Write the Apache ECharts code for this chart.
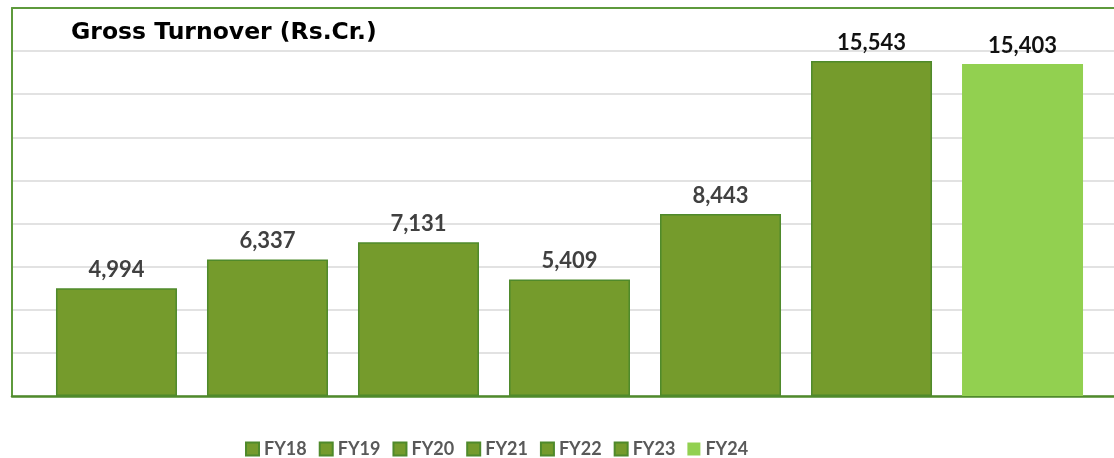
<!DOCTYPE html>
<html>
<head>
<meta charset="utf-8">
<script src="https://cdn.jsdelivr.net/npm/echarts@6/dist/echarts.min.js"></script>
<style>
  html, body { margin: 0; padding: 0; background: #fff; }
  #chart { width: 1114px; height: 458px; }
</style>
</head>
<body>
<div id="chart"></div>
<script>
// 数据
var years = ['FY18', 'FY19', 'FY20', 'FY21', 'FY22', 'FY23', 'FY24'];
var turnover = [4994, 6337, 7131, 5409, 8443, 15543, 15403];
var yTicks = { min: 0, max: 18000, interval: 2000 };

var darkGreen = '#759b2c';
var lightGreen = '#92d050';
var edgeGreen = '#4f8a2b';
var frameGreen = '#5e9a3c';

var myDom = document.getElementById('chart');
var chart = echarts.init(myDom);

var series = [];
for (var i = 0; i < years.length; i++) {
    var last = (i == years.length - 1);
    series.push({
        name: years[i],
        type: 'bar',
        xAxisIndex: 2,
        yAxisIndex: 1,
        barWidth: 121,
        barGap: '24.8%',
        data: [turnover[i]],
        itemStyle: {
            color: last ? lightGreen : darkGreen,
            borderColor: last ? lightGreen : edgeGreen,
            borderWidth: last ? 0 : 1.5
        },
        label: {
            show: true,
            position: 'top',
            distance: 7,
            formatter: function (p) { return p.value.toLocaleString('en-US'); },
            fontFamily: 'Lato',
            fontWeight: 'bold',
            fontSize: 22,
            color: i >= 5 ? '#111111' : '#404040'
        }
    });
}

chart.setOption({
    animation: false,
    title: {
        text: 'Gross Turnover (Rs.Cr.)',
        left: 66,
        top: 16,
        textStyle: { fontFamily: 'DejaVu Sans', fontWeight: 'bold', fontSize: 23.5, color: '#000' }
    },
    legend: {
        data: years,
        left: 240,
        top: 435,
        icon: 'rect',
        itemWidth: 13,
        itemHeight: 13,
        itemGap: 12,
        textStyle: { fontFamily: 'Lato', fontWeight: 'bold', fontSize: 18, color: '#595959' }
    },
    grid: [
        // 框线和网格线
        { left: 12, right: 0, top: 8, height: 388 },
        // 柱子（整体向右偏一点）
        { left: 25, right: 0, top: 8, height: 388 }
    ],
    xAxis: [
        {
            gridIndex: 0,
            type: 'category',
            data: [''],
            axisTick: { show: false },
            axisLabel: { show: false },
            axisLine: { lineStyle: { color: edgeGreen, width: 2.5 } }
        },
        {
            gridIndex: 0,
            type: 'category',
            position: 'top',
            data: [''],
            axisTick: { show: false },
            axisLabel: { show: false },
            axisLine: { lineStyle: { color: frameGreen, width: 2 } }
        },
        {
            gridIndex: 1,
            type: 'category',
            data: [''],
            axisTick: { show: false },
            axisLabel: { show: false },
            axisLine: { show: false }
        }
    ],
    yAxis: [
        {
            gridIndex: 0,
            type: 'value',
            min: yTicks.min,
            max: yTicks.max,
            interval: yTicks.interval,
            axisLabel: { show: false },
            axisLine: { show: true, lineStyle: { color: frameGreen, width: 2 } },
            splitLine: { lineStyle: { color: '#d9d9d9', width: 1.5 } }
        },
        {
            gridIndex: 1,
            type: 'value',
            min: yTicks.min,
            max: yTicks.max,
            interval: yTicks.interval,
            axisLabel: { show: false },
            axisLine: { show: false },
            splitLine: { show: false }
        }
    ],
    series: series
});
</script>
</body>
</html>
